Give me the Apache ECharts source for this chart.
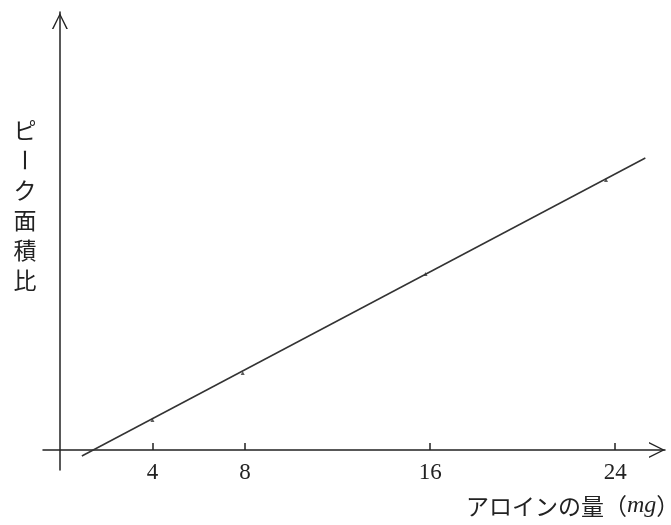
<!DOCTYPE html>
<html>
<head>
<meta charset="utf-8">
<script src="https://cdn.jsdelivr.net/npm/echarts@6/dist/echarts.min.js"></script>
<style>
html, body { margin: 0; padding: 0; background: #fff; }
#chart { width: 671px; height: 525px; }
</style>
</head>
<body>
<div id="chart"></div>
<script>
// values
var tickValues = [4, 8, 16, 24];
var pointX = [4.0, 7.9, 15.8, 23.6];
var pointY = [0.30, 0.77, 1.76, 2.70];
var lineX = [0.95, 25.3];
var lineY = [-0.06, 2.92];
var yName = 'ピーク面積比';
var xName = 'アロインの量';
var xUnit = 'mg';

var ink = '#222';
var jpFont = '"Noto Sans CJK JP"';
var arrow = 'path://M0,20 L10,0 L20,20 L18,20 L10,3.5 L2,20 Z';

var chart = echarts.init(document.getElementById('chart'));

var points = pointX.map(function (x, i) { return [x, pointY[i]]; });
var line = lineX.map(function (x, i) { return [x, lineY[i]]; });

// vertical axis title, one character per row
var yTitle = yName.split('').map(function (ch, i) {
    return {
        type: 'text',
        x: 25,
        y: 130 + i * 30,
        rotation: ch === 'ー' ? -Math.PI / 2 : 0,
        style: {
            text: ch,
            fill: ink,
            font: '23px ' + jpFont,
            align: 'center',
            verticalAlign: 'middle'
        }
    };
});

chart.setOption({
    animation: false,
    backgroundColor: '#fff',
    grid: { left: 43, right: 6, top: 12, bottom: 55 },
    xAxis: {
        type: 'value',
        min: -0.73,
        max: 26.15,
        splitLine: { show: false },
        axisLine: {
            onZero: true,
            symbol: ['none', arrow],
            symbolSize: [16, 16],
            symbolOffset: [0, -8],
            lineStyle: { color: ink, width: 1.5 }
        },
        axisTick: {
            customValues: tickValues,
            inside: true,
            length: 7,
            lineStyle: { color: ink, width: 1.5 }
        },
        axisLabel: {
            customValues: tickValues,
            margin: -9,
            color: ink,
            fontSize: 23,
            fontFamily: '"Liberation Serif"'
        }
    },
    yAxis: {
        type: 'value',
        min: -0.2,
        max: 4.38,
        splitLine: { show: false },
        axisTick: { show: false },
        axisLabel: { show: false },
        axisLine: {
            onZero: true,
            symbol: ['none', arrow],
            symbolSize: [16, 18],
            symbolOffset: [0, -9],
            lineStyle: { color: ink, width: 1.5 }
        }
    },
    graphic: yTitle.concat([{
        type: 'text',
        x: 466,
        y: 506,
        style: {
            rich: {
                a: { font: '23px ' + jpFont, fill: ink },
                b: { font: 'italic 24px "Liberation Serif"', fill: ink }
            },
            text: '{a|' + xName + '（}{b|' + xUnit + '}{a|）}',
            verticalAlign: 'middle'
        }
    }]),
    series: [
        {
            type: 'line',
            data: line,
            symbol: 'none',
            lineStyle: { color: '#333', width: 1.5 }
        },
        {
            type: 'scatter',
            data: points,
            symbol: 'triangle',
            symbolSize: 4,
            itemStyle: { color: '#333' }
        }
    ]
});
</script>
</body>
</html>
